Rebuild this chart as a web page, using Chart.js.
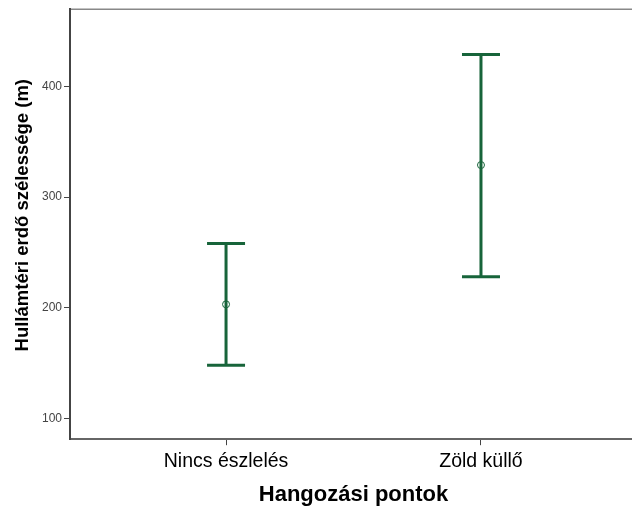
<!DOCTYPE html>
<html>
<head>
<meta charset="utf-8">
<script src="https://cdn.jsdelivr.net/npm/chart.js@4/dist/chart.umd.min.js"></script>
<style>
  html, body { margin: 0; padding: 0; background: #fff; }
  .wrap { width: 632px; height: 508px; overflow: hidden; }
  .box { width: 642px; height: 508px; }
</style>
</head>
<body>
<div class="wrap"><div class="box"><canvas id="chart"></canvas></div></div>
<script>
// data
const categories = ['Nincs észlelés', 'Zöld küllő'];
const means = [203, 329];
const lower = [148, 228];
const upper = [258, 429];
const yTicks = [100, 200, 300, 400];
const yTitle = 'Hullámtéri erdő szélessége (m)';

const green = '#17643a';

// error bars (whiskers + caps) drawn via the chart scales
const errorBars = {
    id: 'errorBars',
    afterDatasetsDraw(chart) {
        const { ctx, scales: { x, y } } = chart;
        ctx.save();
        ctx.strokeStyle = green;
        ctx.lineWidth = 3;
        categories.forEach((c, i) => {
            const px = x.getPixelForValue(i + 1);
            const top = y.getPixelForValue(upper[i]);
            const bot = y.getPixelForValue(lower[i]);
            ctx.beginPath();
            ctx.moveTo(px, top); ctx.lineTo(px, bot);
            ctx.moveTo(px - 19, top); ctx.lineTo(px + 19, top);
            ctx.moveTo(px - 19, bot); ctx.lineTo(px + 19, bot);
            ctx.stroke();
        });
        ctx.restore();
    },
    beforeDraw(chart) {
        const { ctx, chartArea } = chart;
        ctx.save();
        ctx.strokeStyle = '#888';
        ctx.lineWidth = 1.5;
        ctx.beginPath();
        ctx.moveTo(chartArea.left, chartArea.top);
        ctx.lineTo(chartArea.right, chartArea.top);
        ctx.stroke();
        ctx.restore();
    },
    // y title sits a bit above the axis centre in the original
    afterDraw(chart) {
        const { ctx, chartArea } = chart;
        ctx.save();
        ctx.translate(22.5, (chartArea.top + chartArea.bottom) / 2 - 9);
        ctx.rotate(-Math.PI / 2);
        ctx.font = 'bold 18.5px "Liberation Sans"';
        ctx.fillStyle = '#000';
        ctx.textAlign = 'center';
        ctx.textBaseline = 'middle';
        ctx.fillText(yTitle, 0, 0);
        ctx.restore();
    }
};

new Chart(document.getElementById('chart'), {
    type: 'scatter',
    data: {
        datasets: [{
            data: means.map((m, i) => ({ x: i + 1, y: m })),
            pointStyle: 'circle',
            pointRadius: 3.5,
            pointBorderWidth: 1,
            pointBorderColor: green,
            pointBackgroundColor: 'rgba(0,0,0,0)',
            showLine: false
        }]
    },
    options: {
        responsive: true,
        maintainAspectRatio: false,
        animation: false,
        layout: { padding: { top: 8, right: 4, bottom: 0, left: 40 } },
        plugins: { legend: { display: false }, tooltip: { enabled: false } },
        scales: {
            x: {
                type: 'linear',
                min: 0.388,
                max: 2.612,
                afterBuildTicks: (axis) => { axis.ticks = categories.map((c, i) => ({ value: i + 1 })); },
                ticks: {
                    callback: (v) => categories[v - 1],
                    color: '#000',
                    font: { family: 'Liberation Sans', size: 19.5 },
                    padding: 5,
                    maxRotation: 0
                },
                grid: { drawOnChartArea: false, drawTicks: true, tickLength: 6, tickColor: '#444', tickWidth: 1 },
                border: { color: '#666', width: 2 },
                title: {
                    display: true,
                    text: 'Hangozási pontok',
                    color: '#000',
                    font: { family: 'Liberation Sans', size: 22, weight: 'bold' },
                    padding: { top: 3, bottom: 0 }
                }
            },
            y: {
                min: 81,
                max: 470,
                afterBuildTicks: (axis) => { axis.ticks = yTicks.map(v => ({ value: v })); },
                ticks: {
                    color: '#444',
                    font: { family: 'Liberation Sans', size: 12 },
                    padding: 2
                },
                grid: { drawOnChartArea: false, drawTicks: true, tickLength: 6, tickColor: '#444', tickWidth: 1 },
                border: { color: '#444', width: 2 }
            }
        }
    },
    plugins: [errorBars]
});
</script>
</body>
</html>
